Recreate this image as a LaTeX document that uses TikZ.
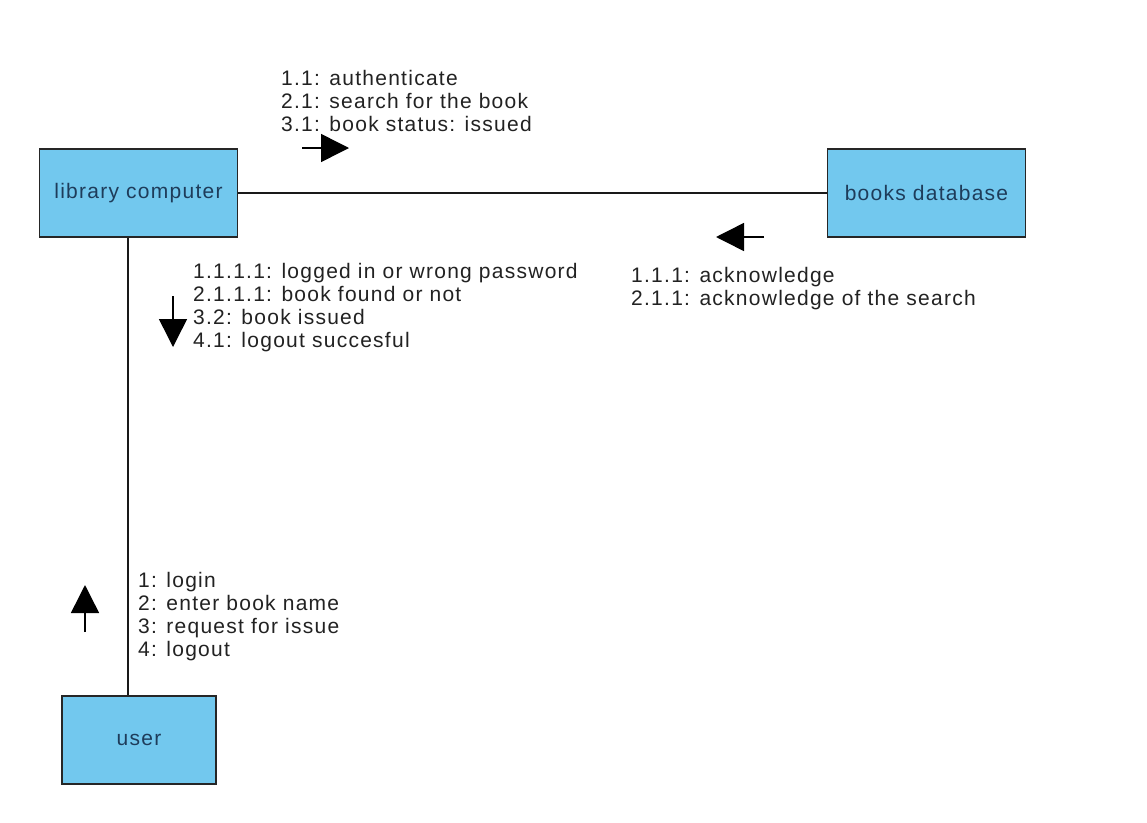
\documentclass[tikz,border=0pt]{standalone}
\usepackage{fontspec}
\setmainfont{Liberation Sans}
\newfontfamily\lblfont{Liberation Sans}[LetterSpace=6]
\usetikzlibrary{arrows.meta}
\definecolor{boxfill}{HTML}{72C8EE}
\definecolor{boxtext}{HTML}{1E3C5A}
\definecolor{lbltext}{HTML}{222222}
\tikzset{
  objbox/.style={draw=black!85, line width=1.8pt, fill=boxfill, text=boxtext,
    font=\lblfont\fontsize{21}{23}\selectfont, inner sep=0pt},
  link/.style={line width=1.5pt, black!90},
  msgarrow/.style={line width=1.5pt, -{Triangle[length=28pt,width=28pt]}},
  msglabel/.style={anchor=north west, inner sep=0pt, align=left, text=lbltext,
    font=\lblfont\fontsize{21}{23}\selectfont}
}
\begin{document}
\begin{tikzpicture}[x=1pt,y=-1pt]
\useasboundingbox[fill=white] (0,0) rectangle (1147,822);

\node[objbox, minimum width=198pt, minimum height=88pt] (lc) at (138.5,193) {library computer};
\node[objbox, minimum width=198pt, minimum height=88pt] (bd) at (926.5,193) {books database};
\node[objbox, minimum width=154pt, minimum height=88pt] (user) at (139,740) {user};

\draw[link] (lc.east) -- (bd.west);
\draw[link] ([xshift=-10.5pt]lc.south) -- ([xshift=-11pt]user.north);

% message arrows
\coordinate (a1s) at (302,148);
\coordinate (a1e) at (349,148);
\draw[msgarrow] (a1s) -- (a1e);
\coordinate (a2s) at (764,237);
\coordinate (a2e) at (716,237);
\draw[msgarrow] (a2s) -- (a2e);
\coordinate (a3s) at (173,296);
\coordinate (a3e) at (173,347);
\draw[msgarrow] (a3s) -- (a3e);
\coordinate (a4s) at (85,632);
\coordinate (a4e) at (85,585);
\draw[msgarrow] (a4s) -- (a4e);

% labels
\node[msglabel] (t1) at (281,70) {1.1: authenticate\\2.1: search for the book\\3.1: book status: issued};
\node[msglabel] (t2) at (193,263) {1.1.1.1: logged in or wrong password\\2.1.1.1: book found or not\\3.2: book issued\\4.1: logout succesful};
\node[msglabel] (t3) at (631,267) {1.1.1: acknowledge\\2.1.1: acknowledge of the search};
\node[msglabel] (t4) at (138,572) {1: login\\2: enter book name\\3: request for issue\\4: logout};
\end{tikzpicture}
\end{document}
